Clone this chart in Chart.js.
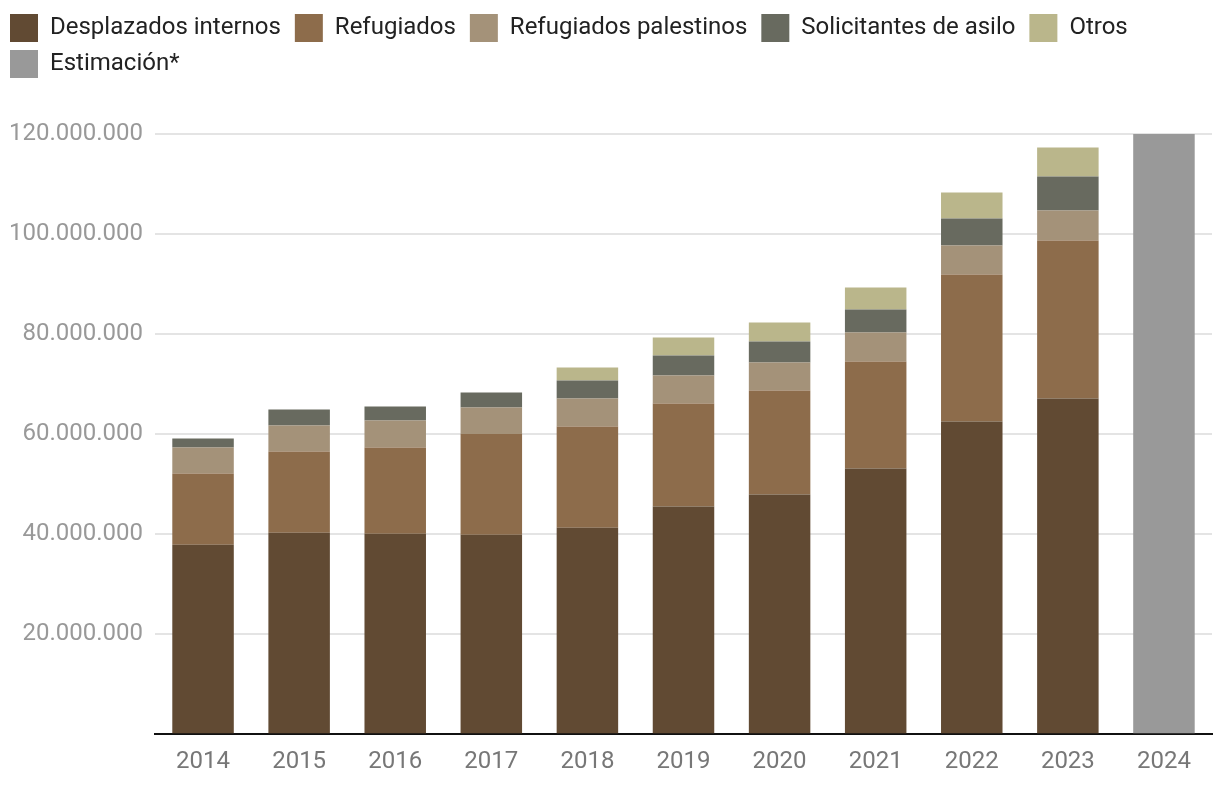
<!DOCTYPE html>
<html>
<head>
<meta charset="utf-8">
<script src="https://cdn.jsdelivr.net/npm/chart.js@4"></script>
<style>
  html, body { margin: 0; padding: 0; background: #fff; }
  #wrap { width: 1220px; height: 790px; }
</style>
</head>
<body>
<div id="wrap"><canvas id="chart" width="1220" height="790"></canvas></div>
<script>
// años y valores (millones de personas)
const years = ['2014', '2015', '2016', '2017', '2018', '2019', '2020', '2021', '2022', '2023', '2024'];
const desplazados = [37.9, 40.3, 40.1, 39.9, 41.3, 45.5, 47.9, 53.1, 62.5, 67.1, null];
const refugiados = [14.2, 16.2, 17.2, 20.1, 20.2, 20.6, 20.8, 21.4, 29.4, 31.6, null];
const palestinos = [5.2, 5.2, 5.4, 5.3, 5.6, 5.6, 5.6, 5.8, 5.8, 6.0, null];
const asilo = [1.8, 3.2, 2.8, 3.0, 3.6, 4.0, 4.2, 4.6, 5.4, 6.8, null];
const otros = [0, 0, 0, 0, 2.6, 3.6, 3.8, 4.4, 5.2, 5.8, null];
const estimacion = [null, null, null, null, null, null, null, null, null, null, 120];

const M = v => v == null ? null : v * 1000000;

Chart.defaults.font.family = 'Roboto';

// espacio extra debajo de la leyenda
const legendGap = {
    id: 'legendGap',
    beforeInit(chart) {
        const fit = chart.legend.fit;
        chart.legend.fit = function () {
            fit.bind(chart.legend)();
            this.height += 46;
        };
    }
};

const ctx = document.getElementById('chart').getContext('2d');

new Chart(ctx, {
    type: 'bar',
    data: {
        labels: years,
        datasets: [
            { label: 'Desplazados internos', data: desplazados.map(M), backgroundColor: '#614a33' },
            { label: 'Refugiados', data: refugiados.map(M), backgroundColor: '#8d6c4b' },
            { label: 'Refugiados palestinos', data: palestinos.map(M), backgroundColor: '#a49279' },
            { label: 'Solicitantes de asilo', data: asilo.map(M), backgroundColor: '#686a5f' },
            { label: 'Otros', data: otros.map(M), backgroundColor: '#bab68b' },
            { label: 'Estimación*', data: estimacion.map(M), backgroundColor: '#999999' }
        ]
    },
    plugins: [legendGap],
    options: {
        responsive: false,
        animation: false,
        layout: { padding: { left: 2, right: 8, top: 6, bottom: 9 } },
        datasets: {
            bar: { barPercentage: 0.64, categoryPercentage: 1, stack: 'a' }
        },
        plugins: {
            legend: {
                position: 'top',
                align: 'start',
                labels: {
                    boxWidth: 28,
                    boxHeight: 28,
                    padding: 8,
                    color: '#222',
                    font: { size: 24 },
                    generateLabels(chart) {
                        // un espacio al final separa un poco más los elementos
                        return Chart.defaults.plugins.legend.labels.generateLabels(chart)
                            .map(item => Object.assign(item, { text: item.text + ' ' }));
                    }
                }
            },
            tooltip: { enabled: false }
        },
        scales: {
            x: {
                stacked: true,
                grid: { display: false },
                border: { color: '#111', width: 2 },
                ticks: { color: '#777', font: { size: 24 }, padding: 5 }
            },
            y: {
                stacked: true,
                min: 0,
                max: 120000000,
                afterFit(scale) { scale.width = 153; },
                grid: { color: '#e4e4e4', lineWidth: 2, drawTicks: false },
                border: { display: false },
                ticks: {
                    stepSize: 20000000,
                    color: '#999',
                    font: { size: 24 },
                    padding: 12,
                    callback: v => v === 0 ? '' : String(v).replace(/\B(?=(\d{3})+(?!\d))/g, '.')
                }
            }
        }
    }
});
</script>
</body>
</html>
